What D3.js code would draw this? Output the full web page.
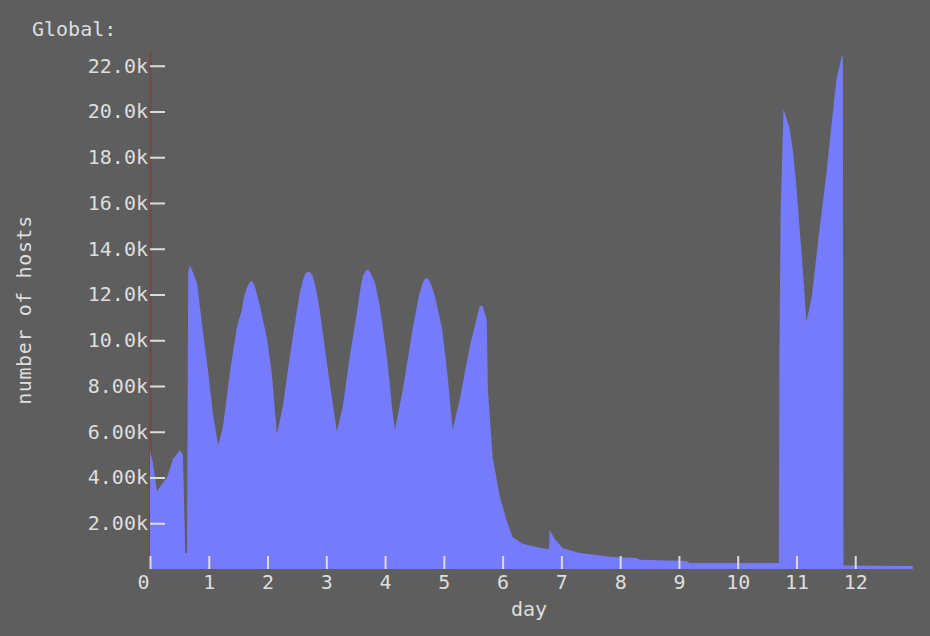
<!DOCTYPE html>
<html>
<head>
<meta charset="utf-8">
<script src="https://cdn.jsdelivr.net/npm/d3@7"></script>
<style>
  body { margin: 0; background: #5e5e5e; }
  text { font-family: "DejaVu Sans Mono", monospace; fill: #dedede; }
</style>
</head>
<body>
<div class="canvas"></div>
<script>
// days since start
const days = [0, 0.05, 0.12, 0.20, 0.29, 0.39, 0.51, 0.56, 0.60, 0.63, 0.65, 0.68,
  0.80, 0.88, 0.99, 1.07, 1.16, 1.24, 1.36, 1.48, 1.56, 1.60, 1.65, 1.69, 1.73, 1.76, 1.79, 1.83, 1.87, 1.99,
  2.07, 2.16, 2.26, 2.38, 2.50, 2.55, 2.60, 2.64, 2.69, 2.73, 2.77, 2.82, 2.89, 3.01, 3.10, 3.18, 3.28, 3.40,
  3.52, 3.57, 3.62, 3.66, 3.71, 3.76, 3.83, 3.87, 3.91, 4.03, 4.13, 4.17, 4.30, 4.47, 4.58, 4.64, 4.68, 4.73, 4.79, 4.85, 4.97,
  5.07, 5.15, 5.27, 5.44, 5.61, 5.66, 5.73, 5.75, 5.83, 5.95, 6.07, 6.17, 6.34, 6.58,
  6.75, 6.79, 6.80, 6.89, 7.02, 7.31, 7.60, 7.87, 8.28, 8.33, 9.13, 9.18, 10.70, 10.71,
  10.73, 10.78, 10.88, 10.94, 11.00, 11.05, 11.10, 11.17, 11.26, 11.39, 11.51, 11.60,
  11.68, 11.77, 11.79, 11.80, 12.98];

// number of hosts
const hosts = [5200, 4600, 3400, 3700, 4000, 4800, 5200, 5000, 700, 700, 13000, 13300,
  12500, 10800, 8600, 6800, 5400, 6200, 8600, 10600, 11300, 11900, 12300, 12500, 12600, 12500, 12300, 11900, 11500, 10100,
  8600, 5900, 7100, 9300, 11300, 12100, 12600, 12900, 13000, 12950, 12800, 12300, 11300, 9000, 7400, 6000, 7100, 9300,
  11200, 12100, 12800, 13000, 13100, 12900, 12500, 12000, 11500, 9300, 6800, 6100, 7800, 10500, 12000, 12500, 12700, 12700, 12400, 11900, 10500,
  8300, 6100, 7400, 9700, 11500, 11500, 10900, 7800, 4900, 3200, 2100, 1400, 1100, 960,
  870, 870, 1700, 1300, 920, 700, 610, 520, 480, 400, 350, 260, 260, 9300,
  15600, 20100, 19300, 18300, 16700, 15000, 13400, 10800, 11900, 14800, 17300, 19500,
  21400, 22400, 22400, 150, 130];

const xTicks = d3.range(0, 13);
const yTicks = d3.range(2000, 22001, 2000);

const data = days.map((d, i) => ({day: d, hosts: hosts[i]}));

const svg = d3.select('.canvas')
    .append('svg')
    .attr('width', 930)
    .attr('height', 636);

svg.append('rect')
    .attr('width', 930)
    .attr('height', 636)
    .attr('fill', '#5e5e5e');

const x = d3.scaleLinear()
    .domain([0, 13])
    .range([150, 914]);

const y = d3.scaleLinear()
    .domain([0, 22600])
    .range([569, 52]);

// y axis line (sits under the area)
svg.append('line')
    .attr('x1', x(0) + 0.5).attr('x2', x(0) + 0.5)
    .attr('y1', y(22600)).attr('y2', y(0))
    .attr('stroke', '#74494a')
    .attr('stroke-width', 2.5);

const area = d3.area()
    .x(d => x(d.day))
    .y0(y(0))
    .y1(d => y(d.hosts));

svg.append('path')
    .datum(data)
    .attr('d', area)
    .attr('fill', '#767bfb');

// axes
const yAxis = d3.axisLeft(y)
    .tickValues(yTicks)
    .tickSize(-15)
    .tickPadding(2)
    .tickFormat(d3.format('.3s'));

const xAxis = d3.axisBottom(x)
    .tickValues(xTicks)
    .tickSize(-13)
    .tickPadding(6);

const yAxisGroup = svg.append('g')
    .attr('transform', `translate(${x(0)},0)`)
    .call(yAxis);

const xAxisGroup = svg.append('g')
    .attr('transform', `translate(0,${y(0)})`)
    .call(xAxis);

[xAxisGroup, yAxisGroup].forEach(g => {
  g.select('.domain').remove();
  g.selectAll('.tick line')
      .attr('stroke', '#dcdcdc')
      .attr('stroke-width', 2);
  g.selectAll('.tick text')
      .attr('fill', '#dedede')
      .style('font-family', '"DejaVu Sans Mono", monospace')
      .style('font-size', '20px');
});

// the 0 label sits a bit to the left of its tick
xAxisGroup.selectAll('.tick text')
    .filter(d => d === 0)
    .attr('x', -7);

svg.append('text')
    .attr('x', 32)
    .attr('y', 36)
    .style('font-size', '20px')
    .text('Global:');

svg.append('text')
    .attr('x', 529)
    .attr('y', 616)
    .attr('text-anchor', 'middle')
    .style('font-size', '20px')
    .text('day');

svg.append('text')
    .attr('transform', 'translate(31,310) rotate(-90)')
    .attr('text-anchor', 'middle')
    .style('font-size', '20px')
    .style('letter-spacing', '0.6px')
    .text('number of hosts');
</script>
</body>
</html>
